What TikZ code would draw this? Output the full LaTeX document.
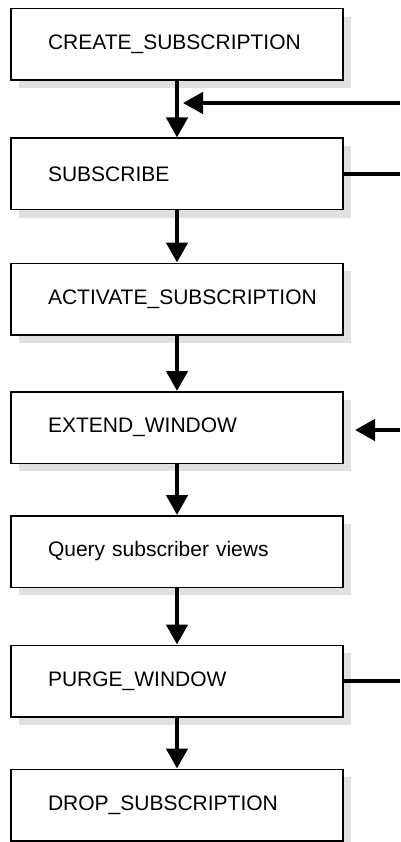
\documentclass[tikz,border=0pt]{standalone}
\usepackage{fontspec}
\setmainfont{Liberation Sans}
\usepackage{tikz}
\usetikzlibrary{arrows.meta,shadows}
\tikzstyle{stepbox}=[draw,rectangle,line width=1.5pt,fill=white,minimum height=71.5pt,text width=258pt,inner xsep=37pt,align=left,font=\fontsize{21}{25}\selectfont,drop shadow={shadow xshift=8pt,shadow yshift=-8pt,fill=black!12,opacity=1}]
\tikzstyle{flow}=[line width=4.5pt,-{Triangle[length=20pt,width=21pt]}]
\tikzstyle{feed}=[line width=4.5pt]

\begin{document}
\begin{tikzpicture}[x=1pt,y=1pt]
\useasboundingbox (0,0) rectangle (400,-842);
\node[stepbox] (create) at (177,-44.5) {CREATE\_SUBSCRIPTION};
\node[stepbox] (subscribe) at (177,-174) {SUBSCRIBE};
\node[stepbox] (activate) at (177,-299) {ACTIVATE\_SUBSCRIPTION};
\node[stepbox] (extend) at (177,-427.5) {EXTEND\_WINDOW};
\node[stepbox] (query) at (177,-551.5) {Query subscriber views};
\node[stepbox] (purge) at (177,-681) {PURGE\_WINDOW};
\node[stepbox] (drop) at (177,-805) {DROP\_SUBSCRIPTION};
\coordinate (in1) at (400,-103);
\coordinate (join1) at (183,-103);
\coordinate (out1) at (400,-174);
\coordinate (in2) at (400,-430);
\coordinate (join2) at (355,-430);
\coordinate (out2) at (400,-681);
\draw[flow] (create) -- (subscribe);
\draw[flow] (subscribe) -- (activate);
\draw[flow] (activate) -- (extend);
\draw[flow] (extend) -- (query);
\draw[flow] (query) -- (purge);
\draw[flow] (purge) -- (drop);
\draw[flow] (in1) -- (join1);
\draw[flow] (in2) -- (join2);
\draw[feed] (subscribe.east) -- (out1);
\draw[feed] (purge.east) -- (out2);
%\draw[feed] (out1) -- (out2);
\end{tikzpicture}
\end{document}
